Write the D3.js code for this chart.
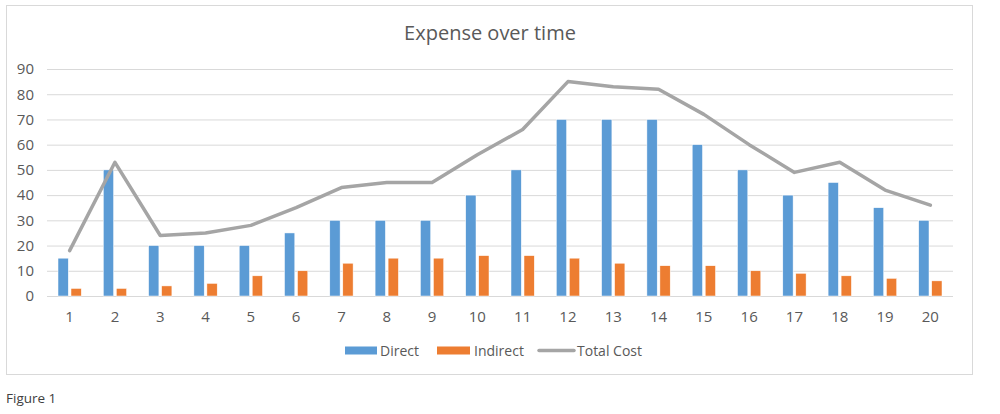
<!DOCTYPE html>
<html>
<head>
<meta charset="utf-8">
<script src="https://cdn.jsdelivr.net/npm/d3@7"></script>
<style>
  body { margin: 0; background: #fff; }
  text { font-family: "Open Sans", "Noto Sans", sans-serif; }
</style>
</head>
<body>
<div id="chart-area"></div>
<script>
// data
var periods = ["1","2","3","4","5","6","7","8","9","10","11","12","13","14","15","16","17","18","19","20"];
var direct = [15, 50, 20, 20, 20, 25, 30, 30, 30, 40, 50, 70, 70, 70, 60, 50, 40, 45, 35, 30];
var indirect = [3, 3, 4, 5, 8, 10, 13, 15, 15, 16, 16, 15, 13, 12, 12, 10, 9, 8, 7, 6];
var totalCost = [18, 53, 24, 25, 28, 35, 43, 45, 45, 56, 66, 85, 83, 82, 72, 60, 49, 53, 42, 36];
var yTicks = [0, 10, 20, 30, 40, 50, 60, 70, 80, 90];
var seriesNames = ["Direct", "Indirect", "Total Cost"];

var w = 1000, h = 414;
var plot = { left: 47, right: 953, top: 69, bottom: 296 };

var svg = d3.select("#chart-area")
    .append("svg")
    .attr("width", w)
    .attr("height", h);

// chart frame
svg.append("rect")
    .attr("x", 6.5).attr("y", 5.5)
    .attr("width", 966).attr("height", 369)
    .attr("fill", "#fff")
    .attr("stroke", "#d9d9d9")
    .attr("stroke-width", 1);

var xScale = d3.scaleBand()
    .domain(periods)
    .range([plot.left, plot.right]);

var yScale = d3.scaleLinear()
    .domain([0, 90])
    .range([plot.bottom, plot.top]);

// gridlines + y labels
var yAxis = d3.axisLeft(yScale)
    .tickValues(yTicks)
    .tickSize(-(plot.right - plot.left))
    .tickPadding(13);

var gy = svg.append("g")
    .attr("transform", "translate(" + plot.left + ",0)")
    .call(yAxis);
gy.select(".domain").remove();
gy.selectAll("line").attr("stroke", "#d9d9d9").attr("stroke-width", 1);
gy.selectAll("text")
    .attr("fill", "#595959")
    .attr("font-size", "15px")
    .attr("x", -13);

// x labels
var xAxis = d3.axisBottom(xScale).tickSize(0).tickPadding(15);
var gx = svg.append("g")
    .attr("transform", "translate(0," + plot.bottom + ")")
    .call(xAxis);
gx.select(".domain").remove();
gx.selectAll("text")
    .attr("fill", "#595959")
    .attr("font-size", "15px");

// bars
var barW = 10.3, gap = 2.7;
var bw = xScale.bandwidth();

svg.append("g").selectAll("rect")
    .data(direct)
    .enter()
    .append("rect")
    .attr("x", function (d, i) { return xScale(periods[i]) + bw / 2 - gap / 2 - barW; })
    .attr("y", function (d) { return yScale(d); })
    .attr("width", barW)
    .attr("height", function (d) { return yScale(0) - yScale(d); })
    .attr("fill", "#5b9bd5")
    .attr("stroke", "#fff")
    .attr("stroke-width", 0.5);

svg.append("g").selectAll("rect")
    .data(indirect)
    .enter()
    .append("rect")
    .attr("x", function (d, i) { return xScale(periods[i]) + bw / 2 + gap / 2; })
    .attr("y", function (d) { return yScale(d); })
    .attr("width", barW)
    .attr("height", function (d) { return yScale(0) - yScale(d); })
    .attr("fill", "#ed7d31")
    .attr("stroke", "#fff")
    .attr("stroke-width", 0.5);

// total cost line
var line = d3.line()
    .x(function (d, i) { return xScale(periods[i]) + bw / 2; })
    .y(function (d) { return yScale(d); });

svg.append("path")
    .datum(totalCost)
    .attr("d", line)
    .attr("fill", "none")
    .attr("stroke", "#a5a5a5")
    .attr("stroke-width", 3.5)
    .attr("stroke-linejoin", "round")
    .attr("stroke-linecap", "round");

// title
svg.append("text")
    .attr("x", 490)
    .attr("y", 40)
    .attr("text-anchor", "middle")
    .attr("font-size", "20px")
    .attr("fill", "#595959")
    .text("Expense over time");

// legend
var legend = svg.append("g").attr("font-size", "14px").attr("fill", "#595959");

legend.append("rect").attr("x", 345).attr("y", 346.5).attr("width", 32).attr("height", 8).attr("fill", "#5b9bd5");
legend.append("text").attr("x", 380).attr("y", 356).text(seriesNames[0]);

legend.append("rect").attr("x", 437).attr("y", 346.5).attr("width", 33).attr("height", 8).attr("fill", "#ed7d31");
legend.append("text").attr("x", 474).attr("y", 356).text(seriesNames[1]);

legend.append("line").attr("x1", 539).attr("x2", 574).attr("y1", 350.5).attr("y2", 350.5)
    .attr("stroke", "#a5a5a5").attr("stroke-width", 3.5).attr("stroke-linecap", "round");
legend.append("text").attr("x", 577).attr("y", 356).text(seriesNames[2]);

// caption
svg.append("text")
    .attr("x", 6)
    .attr("y", 403)
    .attr("font-size", "13.5px")
    .attr("fill", "#404040")
    .text("Figure 1");
</script>
</body>
</html>
